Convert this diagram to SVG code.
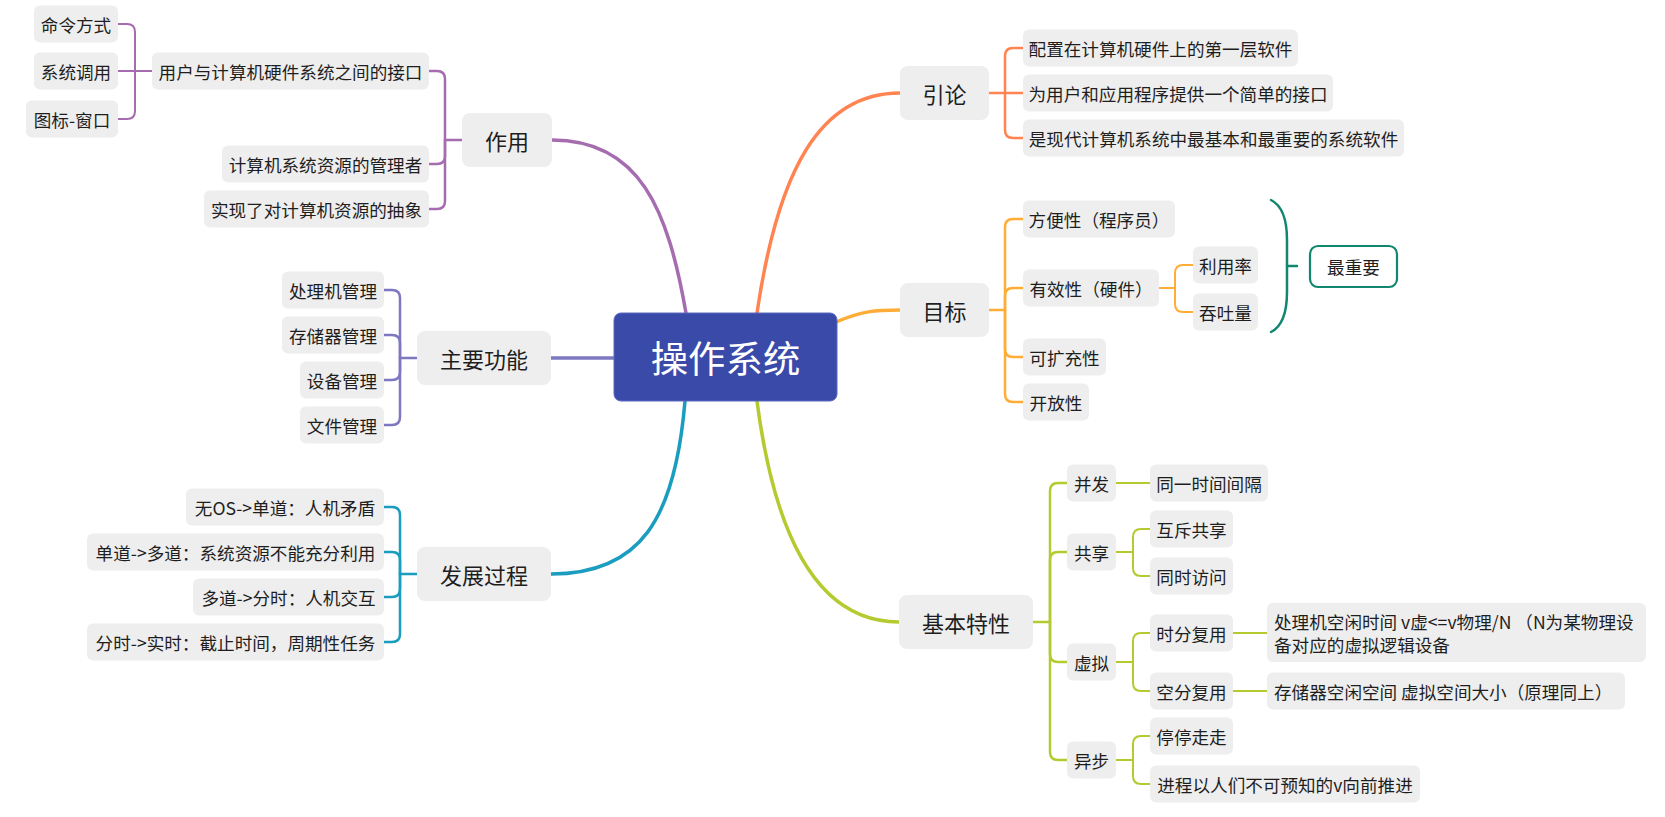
<svg xmlns="http://www.w3.org/2000/svg" width="1665" height="817" viewBox="0 0 1665 817">
<style>
.bg{fill:#ffffff}
.n rect{fill:#eeeeee}
.t{font-family:"Noto Sans CJK SC","Microsoft YaHei",sans-serif;font-size:17.6px;fill:#1e1e1e;text-anchor:middle;dominant-baseline:central}
.t1{font-size:22px}
.tl{text-anchor:start}
.c path{fill:none;stroke-linecap:round;stroke-linejoin:round}
.m{stroke-width:3.5}
.b1{stroke-width:2.5}
.b2{stroke-width:2}
.pu{stroke:#A66CB0}
.or{stroke:#FF8451}
.ye{stroke:#FFAD36}
.sl{stroke:#7E78C2}
.te{stroke:#1B9DBF}
.li{stroke:#B5CA2F}
.gr{stroke:#12876F}
</style>
<rect class="bg" x="0" y="0" width="1665" height="817"/>

<g id="connectors" class="c">
  <!-- main branches -->
  <path class="m pu" d="M 686 313 C 668 210, 640 140, 552 140"/>
  <path class="m or" d="M 757 313 C 778 170, 820 93, 900 93"/>
  <path class="m ye" d="M 836 322 C 862 311, 875 310, 900 310"/>
  <path class="m sl" d="M 551 358 H 615"/>
  <path class="m te" d="M 685 401 C 675 520, 640 574, 551 574"/>
  <path class="m li" d="M 757 401 C 775 540, 820 622, 899 622"/>

  <!-- 作用 -->
  <path class="b1 pu" d="M 462 140 H 445 V 79 Q 445 71 437 71 H 429"/>
  <path class="b1 pu" d="M 445 140 V 156 Q 445 164 437 164 H 429"/>
  <path class="b1 pu" d="M 445 140 V 201 Q 445 209 437 209 H 429"/>
  <!-- 用户与计算机硬件系统之间的接口 -->
  <path class="b2 pu" d="M 152 71 H 135 V 32 Q 135 24 127 24 H 118"/>
  <path class="b2 pu" d="M 135 71 H 118"/>
  <path class="b2 pu" d="M 135 71 V 111 Q 135 119 127 119 H 118"/>

  <!-- 主要功能 -->
  <path class="b1 sl" d="M 417 358 H 400 V 298 Q 400 290 392 290 H 384"/>
  <path class="b1 sl" d="M 400 358 V 343 Q 400 335 392 335 H 384"/>
  <path class="b1 sl" d="M 400 358 V 372 Q 400 380 392 380 H 384"/>
  <path class="b1 sl" d="M 400 358 V 417 Q 400 425 392 425 H 384"/>

  <!-- 发展过程 -->
  <path class="b1 te" d="M 417 574 H 400 V 515 Q 400 507 392 507 H 384"/>
  <path class="b1 te" d="M 400 574 V 560 Q 400 552 392 552 H 384"/>
  <path class="b1 te" d="M 400 574 V 589 Q 400 597 392 597 H 384"/>
  <path class="b1 te" d="M 400 574 V 634 Q 400 642 392 642 H 384"/>

  <!-- 引论 -->
  <path class="b1 or" d="M 989 93 H 1005 V 56 Q 1005 48 1013 48 H 1023"/>
  <path class="b1 or" d="M 1005 93 H 1023"/>
  <path class="b1 or" d="M 1005 93 V 130 Q 1005 138 1013 138 H 1023"/>

  <!-- 目标 -->
  <path class="b1 ye" d="M 989 310 H 1005 V 227 Q 1005 219 1013 219 H 1023"/>
  <path class="b1 ye" d="M 1005 310 V 296 Q 1005 288 1013 288 H 1023"/>
  <path class="b1 ye" d="M 1005 310 V 349 Q 1005 357 1013 357 H 1023"/>
  <path class="b1 ye" d="M 1005 310 V 394 Q 1005 402 1013 402 H 1023"/>
  <!-- 有效性 -->
  <path class="b2 ye" d="M 1159 288 H 1175 V 273 Q 1175 265 1183 265 H 1193"/>
  <path class="b2 ye" d="M 1175 288 V 304 Q 1175 312 1183 312 H 1193"/>
  <!-- brace 最重要 -->
  <path class="b1 gr" d="M 1271 200 C 1283 206, 1287 220, 1287 240 L 1287 292 C 1287 312, 1283 326, 1271 332"/>
  <path class="b1 gr" d="M 1287 266 H 1297"/>

  <!-- 基本特性 -->
  <path class="b1 li" d="M 1033 622 H 1050 V 491 Q 1050 483 1058 483 H 1067"/>
  <path class="b1 li" d="M 1050 622 V 560 Q 1050 552 1058 552 H 1067"/>
  <path class="b1 li" d="M 1050 622 V 654 Q 1050 662 1058 662 H 1067"/>
  <path class="b1 li" d="M 1050 622 V 752 Q 1050 760 1058 760 H 1067"/>
  <path class="b2 li" d="M 1116 483 H 1150"/>
  <path class="b2 li" d="M 1116 552 H 1133 V 537 Q 1133 529 1141 529 H 1150"/>
  <path class="b2 li" d="M 1133 552 V 568 Q 1133 576 1141 576 H 1150"/>
  <path class="b2 li" d="M 1116 662 H 1133 V 641 Q 1133 633 1141 633 H 1150"/>
  <path class="b2 li" d="M 1133 662 V 683 Q 1133 691 1141 691 H 1150"/>
  <path class="b2 li" d="M 1233 633 H 1267"/>
  <path class="b2 li" d="M 1233 691 H 1267"/>
  <path class="b2 li" d="M 1116 760 H 1133 V 744 Q 1133 736 1141 736 H 1150"/>
  <path class="b2 li" d="M 1133 760 V 776 Q 1133 784 1141 784 H 1150"/>
</g>

<!-- central topic -->
<g id="n-root">
  <rect x="614" y="313" width="223" height="88" rx="7" fill="#3A4AA9" stroke="#5A68BE" stroke-width="1"/>
  <text x="725.5" y="357" class="t" style="font-size:37.4px;fill:#ffffff">操作系统</text>
</g>

<!-- left: 作用 -->
<g id="n-zuoyong" class="n"><rect x="462" y="113" width="90" height="54" rx="8"/><text class="t t1" x="507" y="140">作用</text></g>
<g id="n-jiekou" class="n"><rect x="152" y="52.5" width="277" height="37" rx="6"/><text class="t" x="290.5" y="71">用户与计算机硬件系统之间的接口</text></g>
<g id="n-mingling" class="n"><rect x="34" y="5.5" width="84" height="37" rx="6"/><text class="t" x="76" y="24">命令方式</text></g>
<g id="n-xitongdiaoyong" class="n"><rect x="34" y="52.5" width="84" height="37" rx="6"/><text class="t" x="76" y="71">系统调用</text></g>
<g id="n-tubiao" class="n"><rect x="26" y="100.5" width="92" height="37" rx="6"/><text class="t" x="72" y="119">图标-窗口</text></g>
<g id="n-guanlizhe" class="n"><rect x="222" y="145.5" width="207" height="37" rx="6"/><text class="t" x="325.5" y="164">计算机系统资源的管理者</text></g>
<g id="n-chouxiang" class="n"><rect x="204" y="190.5" width="225" height="37" rx="6"/><text class="t" x="316.5" y="209">实现了对计算机资源的抽象</text></g>

<!-- left: 主要功能 -->
<g id="n-zhuyaogongneng" class="n"><rect x="417" y="331" width="134" height="54" rx="8"/><text class="t t1" x="484" y="358">主要功能</text></g>
<g id="n-chuliji" class="n"><rect x="282" y="271.5" width="102" height="37" rx="6"/><text class="t" x="333" y="290">处理机管理</text></g>
<g id="n-cunchuqi" class="n"><rect x="282" y="316.5" width="102" height="37" rx="6"/><text class="t" x="333" y="335">存储器管理</text></g>
<g id="n-shebei" class="n"><rect x="300" y="361.5" width="84" height="37" rx="6"/><text class="t" x="342" y="380">设备管理</text></g>
<g id="n-wenjian" class="n"><rect x="300" y="406.5" width="84" height="37" rx="6"/><text class="t" x="342" y="425">文件管理</text></g>

<!-- left: 发展过程 -->
<g id="n-fazhan" class="n"><rect x="417" y="547" width="134" height="54" rx="8"/><text class="t t1" x="484" y="574">发展过程</text></g>
<g id="n-fz1" class="n"><rect x="186" y="488.5" width="198" height="37" rx="6"/><text class="t" x="285" y="507">无OS-&gt;单道：人机矛盾</text></g>
<g id="n-fz2" class="n"><rect x="87" y="533.5" width="297" height="37" rx="6"/><text class="t" x="235.5" y="552">单道-&gt;多道：系统资源不能充分利用</text></g>
<g id="n-fz3" class="n"><rect x="193" y="578.5" width="191" height="37" rx="6"/><text class="t" x="288.5" y="597">多道-&gt;分时：人机交互</text></g>
<g id="n-fz4" class="n"><rect x="87" y="623.5" width="297" height="37" rx="6"/><text class="t" x="235.5" y="642">分时-&gt;实时：截止时间，周期性任务</text></g>

<!-- right: 引论 -->
<g id="n-yinlun" class="n"><rect x="900" y="66" width="89" height="54" rx="8"/><text class="t t1" x="944.5" y="93">引论</text></g>
<g id="n-yl1" class="n"><rect x="1023" y="29.5" width="275" height="37" rx="6"/><text class="t" x="1160.5" y="48">配置在计算机硬件上的第一层软件</text></g>
<g id="n-yl2" class="n"><rect x="1023" y="74.5" width="310" height="37" rx="6"/><text class="t" x="1178" y="93">为用户和应用程序提供一个简单的接口</text></g>
<g id="n-yl3" class="n"><rect x="1023" y="119.5" width="381" height="37" rx="6"/><text class="t" x="1213.5" y="138">是现代计算机系统中最基本和最重要的系统软件</text></g>

<!-- right: 目标 -->
<g id="n-mubiao" class="n"><rect x="900" y="283" width="89" height="54" rx="8"/><text class="t t1" x="944.5" y="310">目标</text></g>
<g id="n-fangbian" class="n"><rect x="1023" y="200.5" width="152" height="37" rx="6"/><text class="t" x="1099" y="219">方便性（程序员）</text></g>
<g id="n-youxiao" class="n"><rect x="1023" y="269.5" width="136" height="37" rx="6"/><text class="t" x="1091" y="288">有效性（硬件）</text></g>
<g id="n-liyonglv" class="n"><rect x="1193" y="246.5" width="65" height="37" rx="6"/><text class="t" x="1225.5" y="265">利用率</text></g>
<g id="n-tuntu" class="n"><rect x="1193" y="293.5" width="65" height="37" rx="6"/><text class="t" x="1225.5" y="312">吞吐量</text></g>
<g id="n-zuizhongyao"><rect x="1310" y="246" width="87" height="41" rx="8" fill="#ffffff" stroke="#12876F" stroke-width="2.2"/><text class="t" x="1353.5" y="266.5">最重要</text></g>
<g id="n-kekuochong" class="n"><rect x="1023" y="338.5" width="83" height="37" rx="6"/><text class="t" x="1064.5" y="357">可扩充性</text></g>
<g id="n-kaifang" class="n"><rect x="1023" y="383.5" width="66" height="37" rx="6"/><text class="t" x="1056" y="402">开放性</text></g>

<!-- right: 基本特性 -->
<g id="n-jibentexing" class="n"><rect x="899" y="595" width="134" height="54" rx="8"/><text class="t t1" x="966" y="622">基本特性</text></g>
<g id="n-bingfa" class="n"><rect x="1067" y="464.5" width="49" height="37" rx="6"/><text class="t" x="1091.5" y="483">并发</text></g>
<g id="n-tongyi" class="n"><rect x="1150" y="464.5" width="118" height="37" rx="6"/><text class="t" x="1209" y="483">同一时间间隔</text></g>
<g id="n-gongxiang" class="n"><rect x="1067" y="533.5" width="49" height="37" rx="6"/><text class="t" x="1091.5" y="552">共享</text></g>
<g id="n-huchi" class="n"><rect x="1150" y="510.5" width="83" height="37" rx="6"/><text class="t" x="1191.5" y="529">互斥共享</text></g>
<g id="n-tongshi" class="n"><rect x="1150" y="557.5" width="83" height="37" rx="6"/><text class="t" x="1191.5" y="576">同时访问</text></g>
<g id="n-xuni" class="n"><rect x="1067" y="643.5" width="49" height="37" rx="6"/><text class="t" x="1091.5" y="662">虚拟</text></g>
<g id="n-shifen" class="n"><rect x="1150" y="614.5" width="83" height="37" rx="6"/><text class="t" x="1191.5" y="633">时分复用</text></g>
<g id="n-shifen-d" class="n"><rect x="1267" y="603" width="379" height="59" rx="6"/><text class="t tl" x="1274" y="621">处理机空闲时间 v虚&lt;=v物理/N （N为某物理设</text><text class="t tl" x="1274" y="644">备对应的虚拟逻辑设备</text></g>
<g id="n-kongfen" class="n"><rect x="1150" y="672.5" width="83" height="37" rx="6"/><text class="t" x="1191.5" y="691">空分复用</text></g>
<g id="n-kongfen-d" class="n"><rect x="1267" y="672.5" width="358" height="37" rx="6"/><text class="t tl" x="1274" y="691">存储器空闲空间 虚拟空间大小（原理同上）</text></g>
<g id="n-yibu" class="n"><rect x="1067" y="741.5" width="49" height="37" rx="6"/><text class="t" x="1091.5" y="760">异步</text></g>
<g id="n-tingting" class="n"><rect x="1150" y="717.5" width="83" height="37" rx="6"/><text class="t" x="1191.5" y="736">停停走走</text></g>
<g id="n-jincheng" class="n"><rect x="1150" y="765.5" width="270" height="37" rx="6"/><text class="t" x="1285" y="784">进程以人们不可预知的v向前推进</text></g>
</svg>
